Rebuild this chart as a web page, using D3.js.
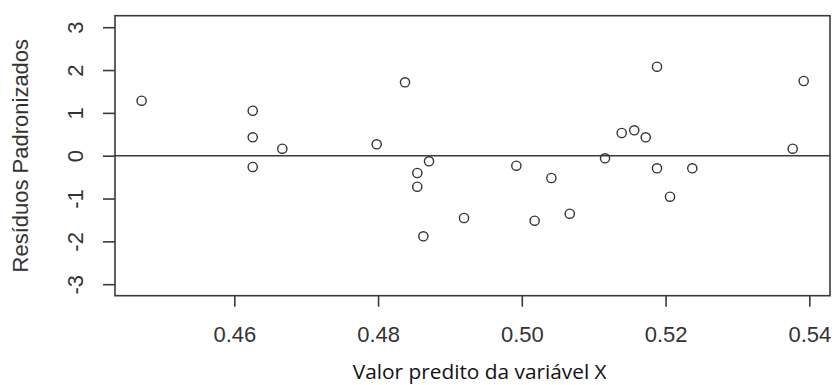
<!DOCTYPE html>
<html><head><meta charset="utf-8">
<script src="https://cdn.jsdelivr.net/npm/d3@7"></script>
<style>html,body{margin:0;padding:0;background:#fff;}</style>
</head><body>
<svg id="c" width="832" height="385"></svg>
<script>
const predicted = [0.4471,0.46256,0.46256,0.46256,0.46668,0.48375,0.47981,0.48709,0.48546,0.48546,0.48630,0.49196,0.49924,0.50411,0.50179,0.50667,0.51158,0.5139,0.51565,0.51724,0.51881,0.51881,0.52062,0.52372,0.53769,0.53922];
const residuals = [1.284,1.05,0.43,-0.264,0.163,1.714,0.266,-0.131,-0.404,-0.724,-1.882,-1.455,-0.233,-0.521,-1.518,-1.354,-0.061,0.53,0.593,0.43,2.078,-0.294,-0.957,-0.294,0.163,1.744];
const xTicks = [0.46,0.48,0.50,0.52,0.54];
const yTicks = [-3,-2,-1,0,1,2,3];
const xTitle = "Valor predito da variável X";
const yTitle = "Resíduos Padronizados";

const svg = d3.select("#c");
const L=115, R=830, T=15.7, B=295.7;
const x = d3.scaleLinear().domain([0.4434,0.54288]).range([L,R]);
const y = d3.scaleLinear().domain([-3.269,3.269]).range([B,T]);
const ink = "#3a3a3a";
const font = "'Liberation Sans', Arial, sans-serif";

// x axis
const xa = svg.append("g").attr("transform",`translate(0,${B})`)
  .call(d3.axisBottom(x).tickValues(xTicks).tickFormat(d => d.toFixed(2)).tickSize(11).tickPadding(22));
xa.select(".domain").remove();
xa.selectAll("line").attr("stroke",ink).attr("stroke-width",1.6);
xa.selectAll("text").attr("font-family",font).attr("font-size",22).attr("fill","#333").attr("dy","0.6em");

// y axis
const ya = svg.append("g").attr("transform",`translate(${L},0)`)
  .call(d3.axisLeft(y).tickValues(yTicks).tickSize(12).tickFormat(d => String(d)));
ya.select(".domain").remove();
ya.selectAll("line").attr("stroke",ink).attr("stroke-width",1.6);
ya.selectAll("text").attr("x",null).attr("dy",null)
  .attr("transform","translate(-32,0) rotate(-90)")
  .attr("text-anchor","middle").attr("font-family",font).attr("font-size",22).attr("fill","#333");

// reference line
svg.append("line").attr("x1",L).attr("x2",R).attr("y1",y(0)).attr("y2",y(0))
  .attr("stroke",ink).attr("stroke-width",1.6);

// box
svg.append("rect").attr("x",L).attr("y",T).attr("width",R-L).attr("height",B-T)
  .attr("fill","none").attr("stroke",ink).attr("stroke-width",1.6);

// points
svg.append("g").selectAll("circle").data(predicted.map((p,i)=>[p,residuals[i]]))
  .join("circle").attr("cx",d=>x(d[0])).attr("cy",d=>y(d[1])).attr("r",4.6)
  .attr("fill","none").attr("stroke","#333").attr("stroke-width",1.4);

// titles
const xt = svg.append("text").attr("x",479.7).attr("y",379).attr("text-anchor","middle")
  .attr("font-family","'Open Sans', sans-serif").attr("font-size",18).attr("fill","#111").text(xTitle);
const w = xt.node().getComputedTextLength();
xt.attr("font-size", 18*254/w);

svg.append("text").attr("transform",`translate(28,${(T+B)/2}) rotate(-90)`).attr("text-anchor","middle")
  .attr("font-family",font).attr("font-size",22).attr("fill","#333").text(yTitle);
</script>
</body></html>
